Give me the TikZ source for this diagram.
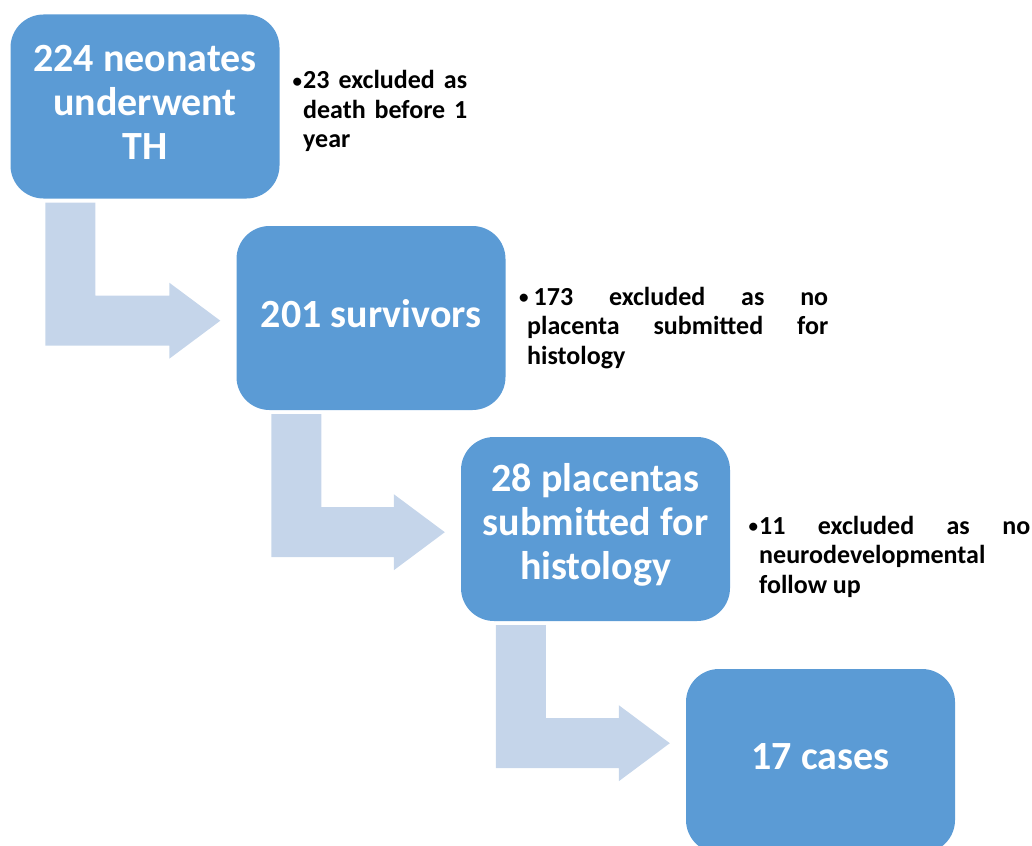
\documentclass[tikz,border=0pt]{standalone}
\usepackage{fontspec}
\setmainfont{Carlito}
\usetikzlibrary{positioning,calc}
\definecolor{boxblue}{HTML}{5B9BD5}
\definecolor{arrowblue}{HTML}{C5D5EA}
\newcommand{\notebullet}{{\fontsize{19}{19}\selectfont\raisebox{1.5pt}{•}}}
\tikzset{%
  flow box/.style={
    rounded corners=33pt,
    fill=boxblue,
    minimum width=269pt,
    minimum height=184pt,
    inner sep=0pt
  },
  flow text/.style={
    text=white,
    inner sep=0pt,
    align=center,
    font=\bfseries\fontsize{40}{44}\selectfont
  },
  flow note/.style={
    anchor=base west,
    inner sep=0pt,
    align=justify,
    font=\bfseries\fontsize{26}{29.5}\selectfont
  },
  flow arrow/.style={fill=arrowblue},
}

\begin{document}
\begin{tikzpicture}[x=1pt, y=-1pt]
        \clip (0,0) rectangle (1032,845);
        \useasboundingbox (0,0) rectangle (1032,845);
        % the four steps
        \foreach \m/\x/\y in {1/145/106.5, 2/371/318, 3/595.5/529, 4/820.5/761}
            \node [flow box] (box-\m) at (\x,\y) {};

        \foreach \l [count=\i] in {{224 neonates\\underwent\\TH}, {201 survivors},
                                   {28 placentas\\submitted for\\histology}, {17 cases}}
            \node [flow text] at ([yshift=4pt]box-\i.center) {\l};

        % bent arrows
        \foreach \a/\b in {1/2,2/3,3/4}
            \fill [flow arrow] let \p1=($(box-\a.south west)+(35,4)$),
                                   \p2=($(box-\b.west)+(-16,0)$),
                                   \p3=($(box-\a.south)+(0,122)$) in
              (\x1,\y1) -- (\x1+50pt,\y1) -- (\x1+50pt,\y3+25pt)
              -- (\x2-51pt,\y3+25pt) -- (\x2-51pt,\y3+38pt) -- (\x2,\y3)
              -- (\x2-51pt,\y3-38pt) -- (\x2-51pt,\y3-25pt) -- (\x1,\y3-25pt) -- cycle;

        % exclusions
        \node [flow note, text width=164pt] (note-1) at (303,89)
            {\noindent\llap{\notebullet\hspace{1pt}}23 excluded as\linebreak death before 1\linebreak year};
        \node [flow note, text width=301pt] (note-2) at (527,305)
            {\noindent\hspace*{-8pt}\mbox{\notebullet\hspace{5pt}173} excluded as no\linebreak placenta submitted for\linebreak histology};
        \node [flow note, text width=271pt] (note-3) at (759,534)
            {\noindent\llap{\notebullet\hspace{1pt}}11 excluded as no\linebreak neurodevelopmental\linebreak follow up};
\end{tikzpicture}
\end{document}
